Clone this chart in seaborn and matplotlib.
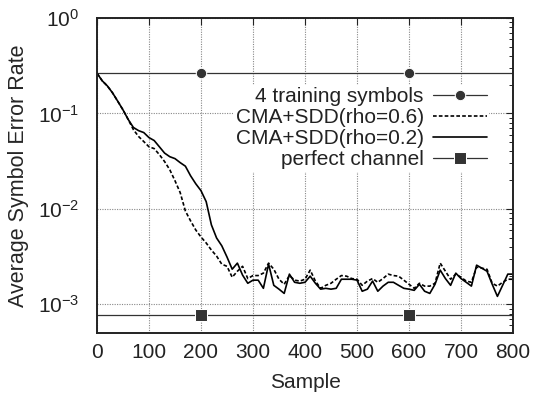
import numpy as np
import pandas as pd
import matplotlib
matplotlib.use("Agg")
import matplotlib.pyplot as plt
import seaborn as sns

# sample axis (every 10 samples)
samples = list(range(0, 801, 10))

ser_rho06 = [0.264, 0.22, 0.194, 0.164, 0.134, 0.109, 0.0865, 0.0677, 0.0573, 0.0507,
             0.0447, 0.0428, 0.037, 0.0313, 0.0257, 0.0197, 0.0148, 0.0095, 0.00748, 0.006,
             0.00507, 0.00439, 0.0037, 0.0032, 0.00263, 0.0025, 0.00192, 0.00222, 0.0025, 0.00186,
             0.002, 0.002, 0.00212, 0.0027, 0.00233, 0.00183, 0.00162, 0.002, 0.00179, 0.00175,
             0.00183, 0.00228, 0.00175, 0.00147, 0.00158, 0.00166, 0.00183, 0.002, 0.00197, 0.00186,
             0.00183, 0.00158, 0.00175, 0.00186, 0.0017, 0.00186, 0.00207, 0.002, 0.00197, 0.00179,
             0.00162, 0.00147, 0.00166, 0.00155, 0.00155, 0.00166, 0.0027, 0.00222, 0.00183, 0.00207,
             0.00192, 0.00175, 0.0017, 0.00245, 0.00239, 0.00233, 0.00166, 0.00155, 0.0017, 0.00183,
             0.00183]

ser_rho02 = [0.264, 0.22, 0.194, 0.164, 0.134, 0.109, 0.0865, 0.0713, 0.066, 0.063,
             0.0558, 0.052, 0.0447, 0.0384, 0.0352, 0.0336, 0.0305, 0.028, 0.0222, 0.0183,
             0.0155, 0.0119, 0.0068, 0.00495, 0.0041, 0.00313, 0.00233, 0.0027, 0.00202, 0.00166,
             0.00179, 0.00179, 0.00147, 0.00264, 0.00158, 0.00144, 0.0013, 0.00207, 0.0017, 0.00166,
             0.0017, 0.00197, 0.00166, 0.00144, 0.00147, 0.00144, 0.00147, 0.00183, 0.00183, 0.00183,
             0.00179, 0.00137, 0.00144, 0.00175, 0.00137, 0.00155, 0.0017, 0.0017, 0.00158, 0.00147,
             0.00144, 0.0014, 0.00162, 0.00137, 0.0013, 0.00162, 0.00228, 0.00186, 0.00158, 0.00212,
             0.00186, 0.0017, 0.00155, 0.00257, 0.00239, 0.00222, 0.00162, 0.00121, 0.00158, 0.00207,
             0.00207]

training_ser = 0.264
perfect_ser = 7.8e-4
marker_samples = [200, 600]

sns.set_style("white")
plt.rcParams['font.family'] = ['Liberation Sans', 'DejaVu Sans']
plt.rcParams['mathtext.fontset'] = 'custom'
plt.rcParams['mathtext.rm'] = 'Liberation Sans'
plt.rcParams['mathtext.it'] = 'Liberation Sans'
plt.rcParams['text.color'] = '#222222'
plt.rcParams['xtick.color'] = '#222222'
plt.rcParams['ytick.color'] = '#222222'

fig = plt.figure(figsize=(5.34, 3.98), dpi=100)
ax = fig.add_axes([0.1816, 0.1633, 0.7791, 0.7915])

# horizontal reference lines, markers only at two samples
hx = [0, marker_samples[0], marker_samples[1], 800]
sns.lineplot(x=hx, y=[training_ser] * 4, ax=ax, color='#333333', lw=0.9,
             marker='o', markersize=7.5, markevery=[1, 2], label='4 training symbols')
sns.lineplot(x=samples, y=ser_rho06, ax=ax, color='black', lw=1.2,
             linestyle=(0, (2.2, 1.3)), label='CMA+SDD(rho=0.6)')
sns.lineplot(x=samples, y=ser_rho02, ax=ax, color='black', lw=1.2,
             label='CMA+SDD(rho=0.2)')
sns.lineplot(x=hx, y=[perfect_ser] * 4, ax=ax, color='#333333', lw=0.9,
             marker='s', markersize=8, markevery=[1, 2], label='perfect channel')

ax.set_yscale('log')
ax.set_xlim(0, 800)
ax.set_ylim(5e-4, 1)
ax.set_xticks(range(0, 801, 100))
ax.set_yticks([1e-3, 1e-2, 1e-1, 1])

ax.grid(True, which='major', linestyle=(0, (1, 1.2)), color='#888888', lw=0.8)
ax.set_axisbelow(True)
ax.tick_params(axis='both', which='both', direction='in', top=True, right=True,
               labelsize=15)
ax.tick_params(axis='both', which='major', length=5, width=0.8)
ax.tick_params(axis='x', which='major', pad=7)
ax.tick_params(axis='y', which='major', pad=13)
ax.tick_params(axis='y', which='minor', length=3, width=0.7)
for sp in ax.spines.values():
    sp.set_color('#222222')
    sp.set_linewidth(1.4)

ax.set_xlabel('Sample', fontsize=15, labelpad=8)
ax.set_ylabel('Average Symbol Error Rate', fontsize=15.5, labelpad=6)

leg = ax.legend(loc='upper right', bbox_to_anchor=(0.968, 0.82), fontsize=15,
                markerfirst=False, frameon=True, fancybox=False, framealpha=1,
                edgecolor='white', labelspacing=0.1, handlelength=2.6,
                borderpad=0.1, handletextpad=0.45, numpoints=1)
leg.get_frame().set_linewidth(0)

fig.savefig('out.png', dpi=100)
